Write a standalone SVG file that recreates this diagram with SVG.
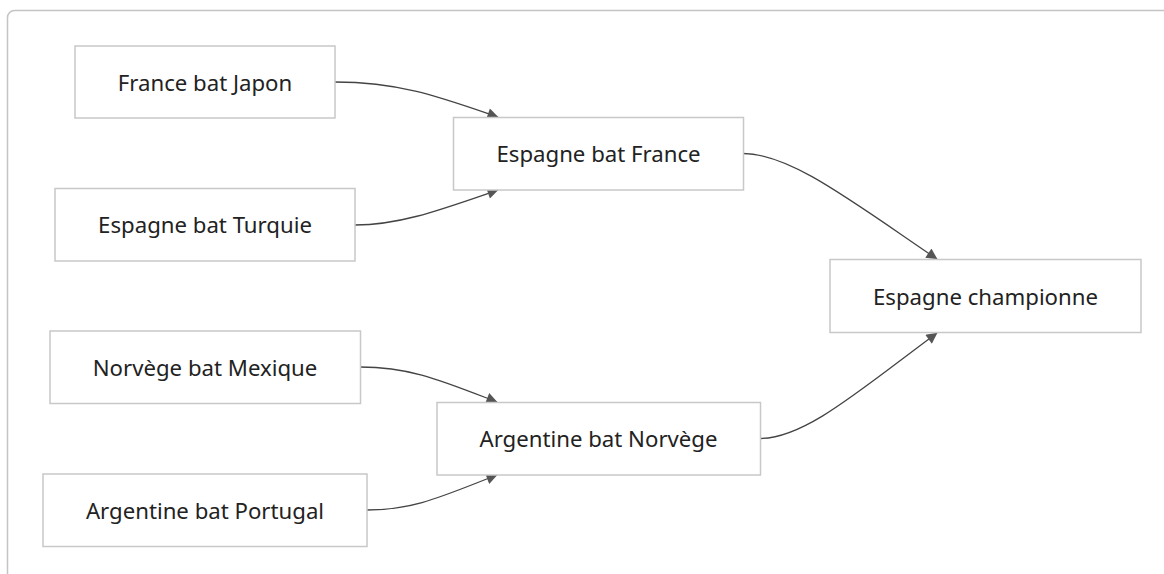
<svg xmlns="http://www.w3.org/2000/svg" width="1164" height="574" viewBox="0 0 1164 574">
<defs>
<style>
.node rect{fill:#ffffff;stroke:#c8c8c8;stroke-width:1.5}
.node text{font-family:"Noto Sans","Open Sans","Liberation Sans",sans-serif;font-size:22.2px;fill:#222222;text-anchor:middle}
.edge{fill:none;stroke:#444444;stroke-width:1.3;marker-end:url(#arrow)}
</style>
<marker id="arrow" viewBox="0 0 10 10" refX="9.5" refY="5" markerWidth="12" markerHeight="11" markerUnits="userSpaceOnUse" orient="auto">
<path d="M0,0 L10,5 L0,10 z" fill="#555555"/>
</marker>
</defs>
<rect x="7.5" y="10.5" width="1200" height="620" rx="7" fill="#ffffff" stroke="#c4c4c4" stroke-width="1.5"/>
<g id="connectors">
<path class="edge" d="M335,82 C400,82 440,97 498,117"/>
<path class="edge" d="M355,225 C400,225 440,210 498,190"/>
<path class="edge" d="M743,153.5 C790,153.5 850,200 937,259"/>
<path class="edge" d="M360,367 C410,367 440,380 497,402"/>
<path class="edge" d="M367,510 C415,510 445,495 497,475"/>
<path class="edge" d="M760,438.5 C805,438.5 860,390 937,333"/>
</g>
<g id="n1" class="node"><rect x="75" y="46" width="260" height="72"/><text x="205" y="90.5">France bat Japon</text></g>
<g id="n2" class="node"><rect x="55" y="188.5" width="300" height="72.5"/><text x="205" y="233">Espagne bat Turquie</text></g>
<g id="n3" class="node"><rect x="453.5" y="117.5" width="290" height="72.5"/><text x="598.5" y="162">Espagne bat France</text></g>
<g id="n4" class="node"><rect x="830" y="259.5" width="311" height="73"/><text x="985.5" y="304.5">Espagne championne</text></g>
<g id="n5" class="node"><rect x="50" y="331" width="310.5" height="72.5"/><text x="205" y="375.5">Norvège bat Mexique</text></g>
<g id="n6" class="node"><rect x="43" y="474" width="324" height="72.5"/><text x="205" y="518.5">Argentine bat Portugal</text></g>
<g id="n7" class="node"><rect x="437" y="402.5" width="323.5" height="72.5"/><text x="598.5" y="447">Argentine bat Norvège</text></g>
</svg>
